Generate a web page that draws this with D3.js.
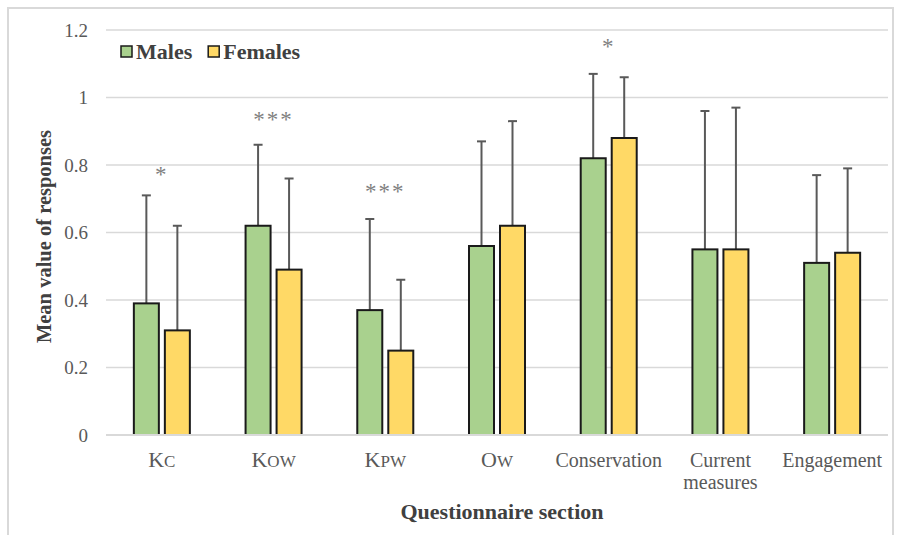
<!DOCTYPE html>
<html>
<head>
<meta charset="utf-8">
<script src="https://cdn.jsdelivr.net/npm/d3@7"></script>
<style>
  body { margin: 0; background: #fff; }
  svg { display: block; }
</style>
</head>
<body>
<div id="chart"></div>
<script>
// categories, each label split into a big first letter + small-caps rest
const categories = ["Kc", "Kow", "Kpw", "Ow", "Conservation", "Current measures", "Engagement"];
const labelParts = [["K", "C"], ["K", "OW"], ["K", "PW"], ["O", "W"], ["Conservation"], ["Current", "measures"], ["Engagement"]];
const males = [0.39, 0.62, 0.37, 0.56, 0.82, 0.55, 0.51];
const females = [0.31, 0.49, 0.25, 0.62, 0.88, 0.55, 0.54];
const malesTop = [0.71, 0.86, 0.64, 0.87, 1.07, 0.96, 0.77];
const femalesTop = [0.62, 0.76, 0.46, 0.93, 1.06, 0.97, 0.79];
const stars = ["*", "***", "***", "", "*", "", ""];
// level (in value units) where each significance mark sits
const starLevels = [0.775, 0.94, 0.725, 0, 1.155, 0, 0];
const yTicks = [0, 0.2, 0.4, 0.6, 0.8, 1, 1.2];
const seriesNames = ["Males", "Females"];
const seriesColours = ["#a9d18e", "#ffd966"];

const width = 901, height = 535;
const margin = { top: 30, right: 13, bottom: 100, left: 106 };
const plotW = width - margin.left - margin.right;
const plotH = height - margin.top - margin.bottom;
const serif = "'Liberation Serif', 'Times New Roman', serif";

const svg = d3.select("#chart").append("svg")
    .attr("width", width).attr("height", height)
    .style("font-family", serif);

// outer frame
svg.append("rect")
    .attr("x", 8).attr("y", 8).attr("width", 885).attr("height", 540)
    .attr("fill", "none").attr("stroke", "#d9d9d9").attr("stroke-width", 2);

const g = svg.append("g").attr("transform", `translate(${margin.left},${margin.top})`);

const x = d3.scaleBand().domain(categories).range([0, plotW]);
const y = d3.scaleLinear().domain([0, 1.2]).range([plotH, 0]);

// gridlines
g.selectAll(".grid").data(yTicks).enter().append("line")
    .attr("x1", 0).attr("x2", plotW)
    .attr("y1", d => y(d)).attr("y2", d => y(d))
    .attr("stroke", "#d9d9d9").attr("stroke-width", 1.5);

// y tick labels
const yAxis = g.append("g").call(d3.axisLeft(y).tickValues(yTicks).tickSize(0).tickPadding(18)
    .tickFormat(d => d3.format("")(+d.toFixed(1))));
yAxis.attr("font-family", serif);
yAxis.select(".domain").remove();
yAxis.selectAll("text")
    .attr("font-size", 19).attr("fill", "#595959");

const barW = 25, gap = 6;
const data = categories.map((c, i) => ({ c, i, vals: [males[i], females[i]], tops: [malesTop[i], femalesTop[i]] }));

const groups = g.selectAll(".cat").data(data).enter().append("g")
    .attr("transform", d => `translate(${x(d.c) + x.bandwidth() / 2},0)`);

[0, 1].forEach(s => {
    const bx = s === 0 ? -gap / 2 - barW : gap / 2;
    // error bars (upper only)
    groups.append("line")
        .attr("x1", bx + barW / 2).attr("x2", bx + barW / 2)
        .attr("y1", d => y(d.vals[s])).attr("y2", d => y(d.tops[s]))
        .attr("stroke", "#595959").attr("stroke-width", 2);
    groups.append("line")
        .attr("x1", bx + barW / 2 - 4.5).attr("x2", bx + barW / 2 + 4.5)
        .attr("y1", d => y(d.tops[s])).attr("y2", d => y(d.tops[s]))
        .attr("stroke", "#595959").attr("stroke-width", 2);
    groups.append("rect")
        .attr("x", bx).attr("width", barW)
        .attr("y", d => y(d.vals[s])).attr("height", d => plotH - y(d.vals[s]))
        .attr("fill", seriesColours[s]).attr("stroke", "#1a1a1a").attr("stroke-width", 2);
});

// significance stars
groups.filter(d => stars[d.i]).append("text")
    .attr("y", d => y(starLevels[d.i]) + 9)
    .attr("text-anchor", "middle")
    .attr("font-size", 23).attr("fill", "#7f7f7f")
    .attr("letter-spacing", 2)
    .text(d => stars[d.i]);

// baseline
g.append("line").attr("x1", 0).attr("x2", plotW).attr("y1", plotH).attr("y2", plotH)
    .attr("stroke", "#d9d9d9").attr("stroke-width", 2);

// category labels
groups.each(function (d) {
    const parts = labelParts[d.i];
    const t = d3.select(this).append("text")
        .attr("y", plotH + 32).attr("text-anchor", "middle")
        .attr("font-size", 20).attr("fill", "#595959");
    if (d.i < 4) {
        t.append("tspan").text(parts[0]).attr("font-size", 22);
        t.append("tspan").text(parts[1]).attr("font-size", 17);
    } else {
        parts.forEach((p, k) => t.append("tspan").attr("x", 0).attr("dy", k === 0 ? 0 : 22).text(p));
    }
});

// axis titles
svg.append("text")
    .attr("transform", `translate(51,${margin.top + plotH / 2 + 4}) rotate(-90)`)
    .attr("text-anchor", "middle").attr("font-weight", "bold")
    .attr("font-size", 20.5).attr("fill", "#404040")
    .text("Mean value of responses");
svg.append("text")
    .attr("x", margin.left + plotW / 2 + 5).attr("y", 519)
    .attr("text-anchor", "middle").attr("font-weight", "bold")
    .attr("font-size", 22).attr("fill", "#404040")
    .text("Questionnaire section");

// legend
const legend = svg.append("g").attr("transform", "translate(121,53)");
let lx = 0;
seriesNames.forEach((n, i) => {
    legend.append("rect").attr("x", lx).attr("y", -7).attr("width", 11).attr("height", 11)
        .attr("fill", seriesColours[i]).attr("stroke", "#1a1a1a").attr("stroke-width", 1.5);
    const t = legend.append("text").attr("x", lx + 15).attr("y", 6)
        .attr("font-size", 22).attr("font-weight", "bold").attr("fill", "#404040").text(n);
    lx += 15 + t.node().getComputedTextLength() + 16;
});
</script>
</body>
</html>
